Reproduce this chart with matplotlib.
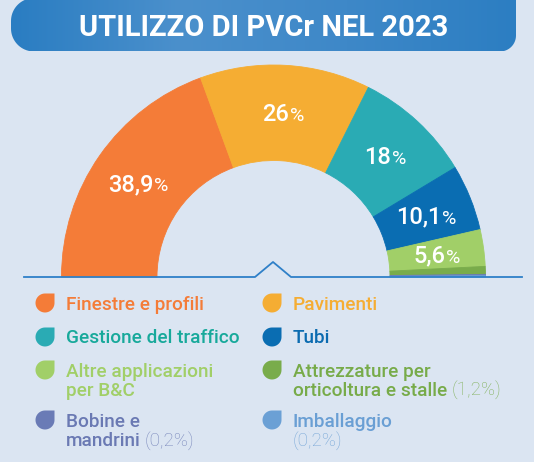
import numpy as np
import matplotlib
matplotlib.use("Agg")
import matplotlib.pyplot as plt
from matplotlib import font_manager
from matplotlib.patches import Polygon
from matplotlib.colors import LinearSegmentedColormap

# ---------------- data ----------------
title = "UTILIZZO DI PVCr NEL 2023"
categories = ["Finestre e profili", "Pavimenti", "Gestione del traffico", "Tubi",
              "Altre applicazioni per B&C", "Attrezzature per orticoltura e stalle",
              "Bobine e mandrini", "Imballaggio"]
values = [38.9, 26, 18, 10.1, 5.6, 1.2, 0.2, 0.2]
arc_labels = ["38,9", "26", "18", "10,1", "5,6", "", "", ""]
legend_text = [["Finestre e profili"], ["Pavimenti"], ["Gestione del traffico"], ["Tubi"],
               ["Altre applicazioni", "per B&C"], ["Attrezzature per", "orticoltura e stalle"],
               ["Bobine e", "mandrini"], ["Imballaggio", ""]]
legend_share = ["", "", "", "", "", "(1,2%)", "(0,2%)", "(0,2%)"]

slice_colors = ["#f47c38", "#f5ad33", "#2aabb4", "#0a6db2", "#a1cf68", "#79ac4b", "#6a7bb6", "#6ba0d5"]
text_colors = ["#f47c38", "#f5ad33", "#17a99b", "#0b6bb0", "#a1cf68", "#77ab49", "#6a79b3", "#6a9fd4"]

BG = "#dbe5f2"
W, H = 534, 462

names = {f.name for f in font_manager.fontManager.ttflist}
FONT = next((n for n in ["Roboto", "Open Sans"] if n in names), "DejaVu Sans")
plt.rcParams["font.family"] = [FONT, "DejaVu Sans"]

fig = plt.figure(figsize=(W / 100, H / 100), dpi=100, facecolor=BG)
ax = fig.add_axes([0, 0, 1, 1])
ax.set_facecolor(BG)

# ---------------- title banner ----------------
def banner_points(x0, x1, y0, y1, r_left, r_br):
    pts = []
    pts.append((x1, y0))
    t = np.linspace(np.pi / 2, np.pi, 20)
    pts += [(x0 + r_left + r_left * np.cos(a), y0 + r_left - r_left * np.sin(a)) for a in t]
    t = np.linspace(np.pi, 1.5 * np.pi, 20)
    pts += [(x0 + r_left + r_left * np.cos(a), y1 - r_left - r_left * np.sin(a)) for a in t]
    t = np.linspace(1.5 * np.pi, 2 * np.pi, 20)
    pts += [(x1 - r_br + r_br * np.cos(a), y1 - r_br - r_br * np.sin(a)) for a in t]
    return pts

banner = Polygon(banner_points(11, 516, -2, 51.5, 23, 16), closed=True, facecolor="none",
                 edgecolor="none")
ax.add_patch(banner)
cmap = LinearSegmentedColormap.from_list("b", ["#2a7dc2", "#4b90cc", "#3e88c8", "#2c7ec2"])
grad = np.linspace(0, 1, 256).reshape(1, -1)
im = ax.imshow(grad, cmap=cmap, extent=(11, 516, 51.5, -2), aspect="auto", zorder=1)
im.set_clip_path(banner)

# ---------------- semicircle donut ----------------
CX, CY = 273.5, 277
R_OUT, R_IN = 212, 116.5
total = sum(values)
wedges, _ = ax.pie(values + [total], radius=R_OUT, center=(CX, CY), startangle=180,
                   counterclock=True, colors=slice_colors + ["none"],
                   wedgeprops=dict(width=R_OUT - R_IN, linewidth=0.6))
for w, c in zip(wedges[:-1], slice_colors):
    w.set_edgecolor(c)
    w.set_zorder(2)
wedges[-1].set_visible(False)

ax.set_xlim(0, W)
ax.set_ylim(H, 0)
ax.set_aspect("equal")
ax.axis("off")

fig.canvas.draw()
renderer = fig.canvas.get_renderer()


def width_of(t):
    return t.get_window_extent(renderer).width


# labels on arc
R_LAB = 165
for w, lab in zip(wedges[:-1], arc_labels):
    if not lab:
        continue
    th = np.deg2rad((w.theta1 + w.theta2) / 2)
    x = CX + R_LAB * np.cos(th)
    y = CY + R_LAB * np.sin(th)
    ta = ax.text(0, 0, lab, fontsize=17, color="white", fontweight="medium",
                 ha="left", va="baseline", zorder=5)
    tb = ax.text(0, 0, "%", fontsize=14, color="white", fontweight="normal",
                 ha="left", va="baseline", zorder=5)
    wa, wb = width_of(ta), width_of(tb)
    x0 = x - (wa + wb + 1) / 2
    ta.set_position((x0, y + 8.5))
    tb.set_position((x0 + wa + 1, y + 8.5))

# baseline with bump
ax.plot([24, 255, 273, 291, 522], [277, 277, 262, 277, 277], color="#2f80c8", lw=1.3,
        solid_joinstyle="round", zorder=4)

# title text
ax.text(264, 36.5, title, fontsize=21, color="white", fontweight="bold", ha="center",
        va="baseline", zorder=3)

# ---------------- legend ----------------
def leaf(cx, cy, s, color):
    r = s / 2
    t = np.linspace(np.pi / 2, 2 * np.pi, 40)
    pts = [(cx + r * np.cos(a), cy - r * np.sin(a)) for a in t]
    pts.append((cx + r, cy - r))
    ax.add_patch(Polygon(pts, closed=True, facecolor=color, edgecolor="none", zorder=3))


col_icon_x = [45, 272]
col_text_x = [65.5, 293]
row_icon_y = [303, 337, 370, 420]
row_base_y = [[309.5], [343], [377, 395.5], [427, 446.5]]
FS = 13.7
for i, (lines, share) in enumerate(zip(legend_text, legend_share)):
    col, row = i % 2, i // 2
    leaf(col_icon_x[col], row_icon_y[row], 19, slice_colors[i])
    last_w = 0
    for j, ln in enumerate(lines):
        by = row_base_y[row][j]
        t = ax.text(col_text_x[col], by, ln, fontsize=FS, color=text_colors[i],
                    fontweight="medium", ha="left", va="baseline", zorder=3)
        last_w = width_of(t) if ln else 0
    if share:
        by = row_base_y[row][len(lines) - 1]
        gap = 4 if last_w else 0
        ax.text(col_text_x[col] + last_w + gap, by, share, fontsize=FS, color=text_colors[i],
                alpha=0.85, fontweight="light", ha="left", va="baseline", zorder=3)

fig.savefig("out.png", dpi=100, facecolor=BG)
